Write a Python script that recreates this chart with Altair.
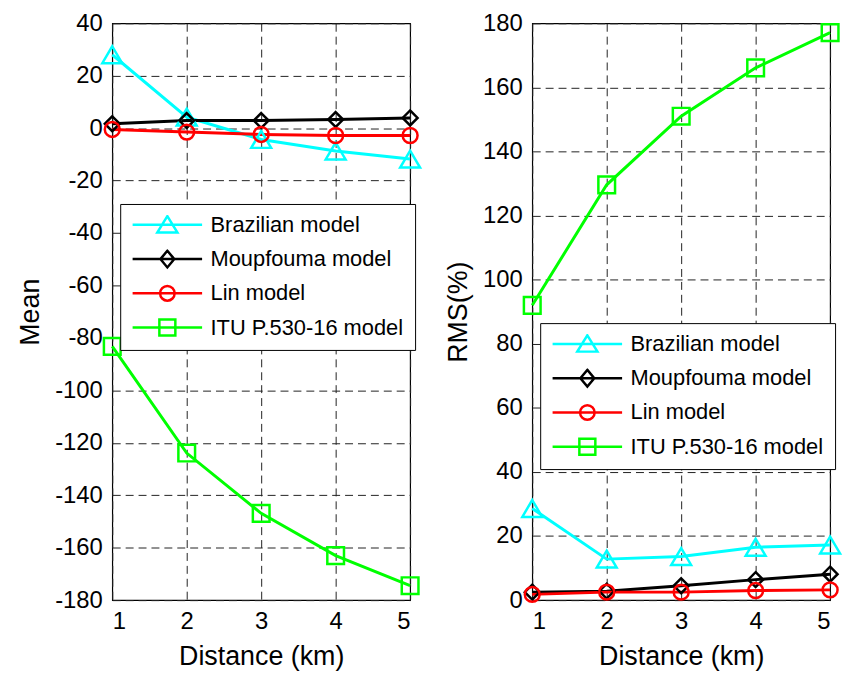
import altair as alt
import pandas as pd

distance = [1, 2, 3, 4, 5]
models = ["Brazilian model", "Moupfouma model", "Lin model", "ITU P.530-16 model"]
colors = ["#00FFFF", "#000000", "#FF0000", "#00FF00"]

# Mean (left panel)
brazil_mean = [28.0, 4.2, -4.3, -8.7, -11.8]
moup_mean = [1.7, 2.9, 2.9, 3.3, 3.9]
lin_mean = [-0.5, -1.5, -2.4, -2.8, -2.8]
itu_mean = [-83.2, -123.9, -146.9, -163.0, -174.5]

# RMS(%) (right panel)
brazil_rms = [28.6, 12.8, 13.6, 16.5, 17.2]
moup_rms = [2.5, 2.8, 4.5, 6.4, 8.1]
lin_rms = [1.8, 2.5, 2.5, 3.0, 3.2]
itu_rms = [92.0, 129.6, 151.0, 166.1, 177.1]

mean_ticks = list(range(-180, 41, 20))
rms_ticks = list(range(0, 181, 20))

# marker shapes (unit paths, scaled by sqrt(size)/2)
marker_paths = [
    "M0,-0.85L1,0.85L-1,0.85Z",
    "M0,-0.75L0.75,0L0,0.75L-0.75,0Z",
    "M0.75,0A0.75,0.75 0 1 1 -0.75,0A0.75,0.75 0 1 1 0.75,0Z",
    "M-0.84,-0.84H0.84V0.84H-0.84Z",
]
# legend symbols: line with marker
legend_paths = [
    "M-1,0H1M0,-0.25L0.29,0.22L-0.29,0.22Z",
    "M-1,0H1M0,-0.24L0.2,0L0,0.24L-0.2,0Z",
    "M-1,0H1M0.21,0A0.21,0.21 0 1 1 -0.21,0A0.21,0.21 0 1 1 0.21,0Z",
    "M-1,0H1M-0.23,-0.23H0.23V0.23H-0.23Z",
]


def long_df(series):
    rows = []
    for m, vals in zip(models, series):
        for d, v in zip(distance, vals):
            rows.append({"distance": d, "model": m, "value": v})
    return pd.DataFrame(rows)


mean_df = long_df([brazil_mean, moup_mean, lin_mean, itu_mean])
rms_df = long_df([brazil_rms, moup_rms, lin_rms, itu_rms])

H = 581
W = 300


def panel(df, ytitle, ydomain, yticks, lx, ly):
    xenc = alt.X("distance:Q", title="Distance (km)",
                 scale=alt.Scale(domain=[1, 5], nice=False),
                 axis=alt.Axis(values=distance, format="d"))
    yenc = alt.Y("value:Q", title=ytitle,
                 scale=alt.Scale(domain=ydomain, nice=False),
                 axis=alt.Axis(values=yticks, labelExpr="datum.value + ''"))
    cscale = alt.Scale(domain=models, range=colors)
    base = alt.Chart(df)
    lines = base.mark_line(strokeWidth=3).encode(
        x=xenc, y=yenc,
        color=alt.Color("model:N", scale=cscale, legend=None),
    )
    pts = base.mark_point(filled=False, strokeWidth=2.5, size=400, opacity=1).encode(
        x=xenc, y=yenc,
        color=alt.Color("model:N", scale=cscale, legend=None),
        shape=alt.Shape("model:N", scale=alt.Scale(domain=models, range=marker_paths), legend=None),
    )
    leg = alt.Legend(
        orient="none", legendX=lx, legendY=ly, title=None,
        labelFontSize=22, labelColor="black", labelFont="Liberation Sans",
        symbolSize=4900, symbolStrokeWidth=2.5, labelOffset=7,
        strokeColor="black", fillColor="white", padding=11,
        clipHeight=20, rowPadding=12.5, labelLimit=400,
    )
    legend_layer = base.transform_filter("datum.distance < 0").mark_point(
        filled=False, strokeWidth=2.5, opacity=1
    ).encode(
        x=xenc, y=yenc,
        color=alt.Color("model:N", scale=cscale, legend=leg),
        shape=alt.Shape("model:N", scale=alt.Scale(domain=models, range=legend_paths), legend=leg),
    )
    return alt.layer(lines, pts, legend_layer).resolve_scale(
        color="independent", shape="independent"
    ).properties(width=W, height=H)


left = panel(mean_df, "Mean", [-180, 40], mean_ticks, 8, 182)
right = panel(rms_df, "RMS(%)", [0, 180], rms_ticks, 8, 302)

chart = alt.hconcat(left, right, spacing=18).properties(
    padding={"left": 8, "top": 0, "right": -1, "bottom": 0}
).configure(font="Liberation Sans").configure_axis(
    labelFontSize=24, titleFontSize=27, titleFontWeight="normal",
    labelColor="black", titleColor="black", ticks=False, domain=False,
    grid=True, gridDash=[8, 5], gridColor="#222222", gridWidth=1, gridOpacity=1,
    labelPadding=10,
).configure_axisX(titlePadding=10).configure_axisY(titlePadding=10).configure_view(
    stroke="black", strokeWidth=1.2
)

chart.save("out.html", embed_options={"renderer": "svg", "actions": False})
